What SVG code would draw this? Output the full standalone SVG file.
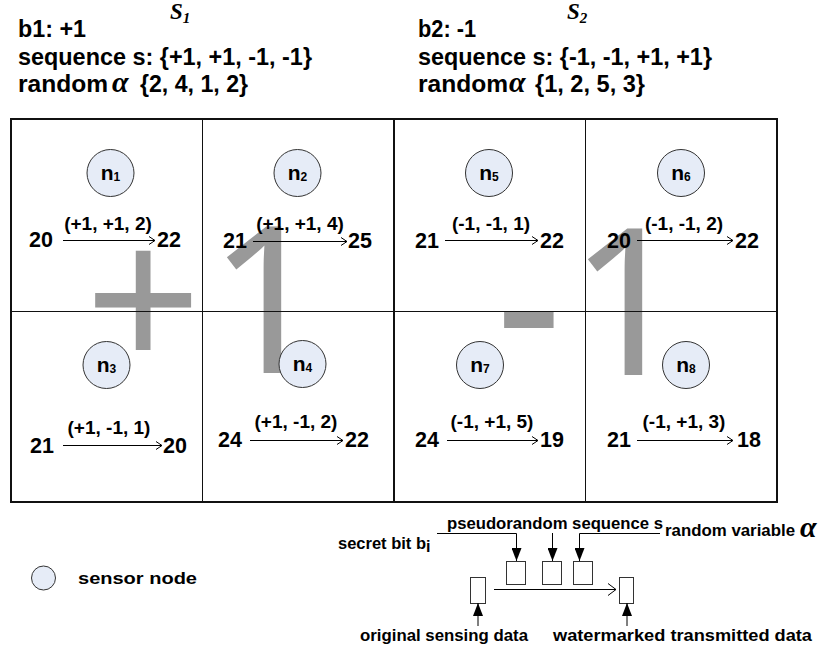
<svg xmlns="http://www.w3.org/2000/svg" width="821" height="651" viewBox="0 0 821 651">
  <style>
    .hdr { font-family: "Liberation Sans", Arial, sans-serif; font-weight: bold; font-size: 23px; fill: #000; }
    .ttl { font-family: "Liberation Serif", "Times New Roman", serif; font-style: italic; font-weight: bold; font-size: 23px; fill: #000; }
    .alpha { font-family: "Liberation Serif", "Times New Roman", serif; font-style: italic; font-weight: bold; font-size: 30px; fill: #000; }
    .num { font-family: "Liberation Sans", Arial, sans-serif; font-weight: bold; font-size: 21.5px; fill: #000; }
    .lbl { font-family: "Liberation Sans", Arial, sans-serif; font-weight: bold; font-size: 19px; fill: #000; text-anchor: middle; }
    .ntxt { font-family: "Liberation Sans", Arial, sans-serif; font-weight: bold; font-size: 21px; fill: #000; text-anchor: middle; }
    .sm { font-family: "Liberation Sans", Arial, sans-serif; font-weight: bold; font-size: 16px; fill: #000; }
    .mark { font-family: "Noto Sans", Roboto, sans-serif; font-weight: normal; font-size: 204px; fill: #999999; }
    .node circle { fill: #e6ecf7; stroke: #333; stroke-width: 1; }
    .grid line, .grid rect { stroke: #111; fill: none; }
    .conn line, .conn path { stroke: #000; stroke-width: 1; fill: none; }
    .box { fill: #fff; stroke: #333; stroke-width: 1; }
  </style>
  <defs>
    <marker id="chev" markerUnits="userSpaceOnUse" viewBox="0 -1 8 10" markerWidth="8" markerHeight="10" refX="7" refY="4" orient="auto">
      <path d="M1,0 L7,4 L1,8" fill="none" stroke="#000" stroke-width="1"/>
    </marker>
    <marker id="chevBig" markerUnits="userSpaceOnUse" viewBox="0 -1 10 14" markerWidth="10" markerHeight="14" refX="9" refY="6" orient="auto">
      <path d="M1,0 L9,6 L1,12" fill="none" stroke="#000" stroke-width="1"/>
    </marker>
    <marker id="tri" markerUnits="userSpaceOnUse" viewBox="0 0 13 10" markerWidth="13" markerHeight="10" refX="13" refY="5" orient="auto">
      <path d="M0,0 L13,5 L0,10 Z" fill="#000"/>
    </marker>
  </defs>

  <!-- headers of the two sections -->
  <g id="header-s1">
    <text class="ttl" x="170" y="19">S<tspan font-size="15" dy="4">1</tspan></text>
    <text class="hdr" x="18" y="37" textLength="68" lengthAdjust="spacingAndGlyphs">b1: +1</text>
    <text class="hdr" x="18" y="65" textLength="294" lengthAdjust="spacingAndGlyphs">sequence s: {+1, +1, -1, -1}</text>
    <text class="hdr" x="18" y="92" textLength="90" lengthAdjust="spacingAndGlyphs">random</text>
    <text class="alpha" x="112" y="92">α</text>
    <text class="hdr" x="140" y="92" textLength="108" lengthAdjust="spacingAndGlyphs">{2, 4, 1, 2}</text>
  </g>
  <g id="header-s2">
    <text class="ttl" x="567" y="19">S<tspan font-size="15" dy="4">2</tspan></text>
    <text class="hdr" x="418" y="37" textLength="58" lengthAdjust="spacingAndGlyphs">b2: -1</text>
    <text class="hdr" x="418" y="65" textLength="294" lengthAdjust="spacingAndGlyphs">sequence s: {-1, -1, +1, +1}</text>
    <text class="hdr" x="418" y="92" textLength="90" lengthAdjust="spacingAndGlyphs">random</text>
    <text class="alpha" x="509" y="92">α</text>
    <text class="hdr" x="535" y="92" textLength="110" lengthAdjust="spacingAndGlyphs">{1, 2, 5, 3}</text>
  </g>

  <!-- large bit marks behind the cells -->
  <g id="bit-marks">
    <text class="mark" x="85" y="373">+<tspan dx="7">1</tspan></text>
    <text class="mark" x="496" y="375">-<tspan dx="8">1</tspan></text>
  </g>

  <!-- field grid -->
  <g class="grid" id="grid">
    <rect x="11" y="119" width="766" height="383" stroke-width="2"/>
    <line x1="394" y1="119" x2="394" y2="502" stroke-width="2"/>
    <line x1="202.5" y1="119" x2="202.5" y2="502" stroke-width="1"/>
    <line x1="585.5" y1="119" x2="585.5" y2="502" stroke-width="1"/>
    <line x1="11" y1="311.5" x2="777" y2="311.5" stroke-width="1"/>
  </g>

  <!-- sensor nodes -->
  <g class="node" id="n1"><circle cx="110.5" cy="173" r="23.5"/><text class="ntxt" x="110.5" y="180">n<tspan font-size="12" dy="1">1</tspan></text></g>
  <g class="node" id="n2"><circle cx="297.5" cy="173" r="23.5"/><text class="ntxt" x="297.5" y="180">n<tspan font-size="12" dy="1">2</tspan></text></g>
  <g class="node" id="n5"><circle cx="489" cy="173" r="23.5"/><text class="ntxt" x="489" y="180">n<tspan font-size="12" dy="1">5</tspan></text></g>
  <g class="node" id="n6"><circle cx="681" cy="173" r="23.5"/><text class="ntxt" x="681" y="180">n<tspan font-size="12" dy="1">6</tspan></text></g>
  <g class="node" id="n3"><circle cx="106.5" cy="365" r="23.5"/><text class="ntxt" x="106.5" y="372">n<tspan font-size="12" dy="1">3</tspan></text></g>
  <g class="node" id="n4"><circle cx="302.5" cy="364" r="23.5"/><text class="ntxt" x="302.5" y="371">n<tspan font-size="12" dy="1">4</tspan></text></g>
  <g class="node" id="n7"><circle cx="480" cy="365" r="23.5"/><text class="ntxt" x="480" y="372">n<tspan font-size="12" dy="1">7</tspan></text></g>
  <g class="node" id="n8"><circle cx="686" cy="365" r="23.5"/><text class="ntxt" x="686" y="372">n<tspan font-size="12" dy="1">8</tspan></text></g>

  <!-- readings before and after watermarking -->
  <g id="values">
    <text class="num" x="29" y="247">20</text><text class="num" x="157" y="247">22</text>
    <text class="lbl" x="108" y="230">(+1, +1, 2)</text>
    <text class="num" x="223" y="248">21</text><text class="num" x="348" y="248">25</text>
    <text class="lbl" x="300" y="230">(+1, +1, 4)</text>
    <text class="num" x="415" y="248">21</text><text class="num" x="540" y="248">22</text>
    <text class="lbl" x="491" y="230">(-1, -1, 1)</text>
    <text class="num" x="607" y="248">20</text><text class="num" x="735" y="248">22</text>
    <text class="lbl" x="684" y="230">(-1, -1, 2)</text>
    <text class="num" x="30" y="453">21</text><text class="num" x="163" y="453">20</text>
    <text class="lbl" x="109" y="434">(+1, -1, 1)</text>
    <text class="num" x="218" y="447">24</text><text class="num" x="345" y="447">22</text>
    <text class="lbl" x="296" y="428">(+1, -1, 2)</text>
    <text class="num" x="415" y="447">24</text><text class="num" x="540" y="447">19</text>
    <text class="lbl" x="492" y="428">(-1, +1, 5)</text>
    <text class="num" x="607" y="447">21</text><text class="num" x="737" y="447">18</text>
    <text class="lbl" x="684" y="428">(-1, +1, 3)</text>
  </g>

  <!-- legend -->
  <g class="node" id="legend-node">
    <circle cx="43.5" cy="578" r="12"/>
  </g>
  <text class="sm" x="78" y="584" font-size="19.5px" textLength="119" lengthAdjust="spacingAndGlyphs">sensor node</text>

  <!-- embedding scheme -->
  <g id="scheme">
    <rect class="box" x="470.5" y="577.5" width="15" height="26"/>
    <rect class="box" x="506.5" y="561.5" width="19" height="23"/>
    <rect class="box" x="542.5" y="561.5" width="19" height="23"/>
    <rect class="box" x="573.5" y="561.5" width="19" height="23"/>
    <rect class="box" x="619.5" y="577.5" width="14" height="26"/>
    <text class="sm" x="338" y="549" textLength="88" lengthAdjust="spacingAndGlyphs">secret bit b</text>
    <text class="sm" x="426" y="552" font-size="11px">i</text>
    <text class="sm" x="447" y="529" textLength="216" lengthAdjust="spacingAndGlyphs">pseudorandom sequence s</text>
    <text class="sm" x="665" y="536" textLength="130" lengthAdjust="spacingAndGlyphs">random variable</text>
    <text class="alpha" x="800" y="537" font-size="25px">α</text>
    <text class="sm" x="360" y="641" textLength="168" lengthAdjust="spacingAndGlyphs">original sensing data</text>
    <text class="sm" x="553" y="641" textLength="259" lengthAdjust="spacingAndGlyphs">watermarked  transmitted data</text>
  </g>

  <!-- connectors -->
  <g class="conn" id="connectors">
    <line x1="63" y1="240.5" x2="155" y2="240.5" marker-end="url(#chev)"/>
    <line x1="253" y1="241.5" x2="347" y2="241.5" marker-end="url(#chev)"/>
    <line x1="445" y1="240.5" x2="538" y2="240.5" marker-end="url(#chev)"/>
    <line x1="637" y1="240.5" x2="733" y2="240.5" marker-end="url(#chev)"/>
    <line x1="63" y1="445.5" x2="162" y2="445.5" marker-end="url(#chev)"/>
    <line x1="250" y1="440.5" x2="343" y2="440.5" marker-end="url(#chev)"/>
    <line x1="447" y1="440.5" x2="538" y2="440.5" marker-end="url(#chev)"/>
    <line x1="637" y1="440.5" x2="733" y2="440.5" marker-end="url(#chev)"/>
    <path d="M437,533.5 H516.5 V561" marker-end="url(#tri)"/>
    <line x1="552.5" y1="533" x2="552.5" y2="561" marker-end="url(#tri)"/>
    <path d="M660,533.5 H579.5 V561" marker-end="url(#tri)"/>
    <line x1="494" y1="589.5" x2="616" y2="589.5" marker-end="url(#chevBig)"/>
    <line x1="478" y1="626" x2="478" y2="603" marker-end="url(#tri)"/>
    <line x1="627" y1="626" x2="627" y2="603" marker-end="url(#tri)"/>
  </g>
</svg>
